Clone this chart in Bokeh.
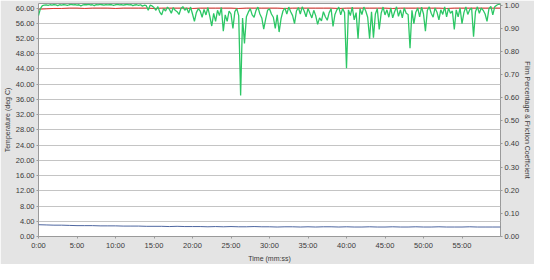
from bokeh.plotting import figure
from bokeh.models import Range1d, LinearAxis, FixedTicker
from bokeh.embed import file_html
from bokeh.resources import INLINE

# ---- data ----
x_ticks = [0, 5, 10, 15, 20, 25, 30, 35, 40, 45, 50, 55]
x_tick_labels = ["0:00", "5:00", "10:00", "15:00", "20:00", "25:00", "30:00",
                 "35:00", "40:00", "45:00", "50:00", "55:00"]
temp_ticks = [0, 4, 8, 12, 16, 20, 24, 28, 32, 36, 40, 44, 48, 52, 56, 60]
ratio_ticks = [0.0, 0.1, 0.2, 0.3, 0.4, 0.5, 0.6, 0.7, 0.8, 0.9, 1.0]

# film percentage (right axis), one value every 15 s
film_time = [i * 0.25 for i in range(241)]
film = [
    0.955, 0.985, 0.998, 1.000,  1.001, 0.999, 1.002, 1.000,  1.003, 1.001, 0.998, 1.002,
    1.000, 1.003, 1.001, 0.999,  1.002, 1.004, 1.001, 1.003,  1.000, 1.002, 0.997, 1.001,
    1.003, 1.002, 1.004, 1.001,  1.002, 0.998, 1.003, 1.001,  1.004, 1.002, 1.000, 1.003,
    1.001, 1.003, 1.002, 0.999,  1.002, 1.004, 1.001, 1.003,  1.000, 1.002, 1.004, 1.001,
    1.003, 0.998, 1.001, 1.002,  0.999, 1.002, 0.996, 1.000,  0.998, 0.978, 1.000, 0.997,
    0.990, 0.978, 0.994, 0.970,  0.958, 0.985, 0.975, 0.992,  0.982, 0.965, 0.990, 0.978,
    0.972, 0.960, 0.986, 0.994,  0.978, 0.988, 0.966, 0.992,  0.962, 0.930, 0.968, 0.985,
    0.975, 0.948, 0.982, 0.958,  0.990, 0.952, 0.910, 0.965,  0.930, 0.978, 0.955, 0.990,
    0.888, 0.958, 0.930, 0.975,  0.962, 0.900, 0.972, 0.985,  0.955, 0.610, 0.945, 0.835,
    0.950, 0.970, 0.985, 0.958,  0.948, 0.978, 0.992, 0.962,  0.945, 0.897, 0.940, 0.978,
    0.985, 0.962, 0.948, 0.900,  0.958, 0.884, 0.942, 0.975,  0.988, 0.962, 0.992, 0.972,
    0.955, 0.920, 0.975, 0.990,  0.962, 0.993, 0.975, 0.950,  0.986, 0.965, 0.945, 0.978,
    0.955, 0.917, 0.945, 0.932,  0.972, 0.950, 0.935, 0.968,  0.985, 0.908, 0.960, 0.980,
    0.992, 0.958, 0.986, 0.968,  0.728, 0.980, 0.955, 0.992,  0.937, 0.968, 0.855, 0.985,
    0.960, 0.992, 0.975, 0.948,  0.855, 0.972, 0.860, 0.962,  0.985, 0.895, 0.965, 0.992,
    0.958, 0.980, 0.948, 0.988,  0.945, 0.972, 0.993, 0.952,  0.980, 0.945, 0.988, 0.965,
    0.960, 0.814, 0.978, 0.920,  0.970, 0.988, 0.950, 0.992,  0.962, 0.888, 0.978, 0.993,
    0.965, 0.948, 0.988, 0.970,  0.937, 0.980, 0.960, 0.993,  0.950, 0.987, 0.965, 0.975,
    0.895, 0.980, 0.950, 0.988,  0.920, 0.968, 0.993, 0.960,  0.980, 0.988, 0.864, 0.972,
    0.993, 0.965, 0.988, 0.978,  0.962, 0.930, 0.985, 0.995,  0.958, 0.993, 1.000, 1.004,
    1.005,
]

# temperature (left axis) and friction coefficient (right axis), one value per minute
minute_time = list(range(61))
temperature = [
    59.7, 59.8, 59.9, 59.9, 60.0, 60.0, 59.9, 60.0, 60.0, 60.0, 59.9, 60.0, 60.0,
    60.0, 60.0, 59.9, 60.0, 60.0, 60.0, 60.0, 59.9, 60.0, 60.0, 60.0, 60.0, 60.0,
    59.9, 60.0, 60.0, 60.0, 60.0, 60.0, 59.9, 60.0, 60.0, 60.0, 60.0, 60.0, 60.0,
    59.9, 60.0, 60.0, 60.0, 60.0, 60.0, 60.0, 59.9, 60.0, 60.0, 60.0, 60.0, 60.0,
    60.0, 59.9, 60.0, 60.0, 60.0, 60.0, 60.0, 60.0, 60.0,
]
friction = [
    0.051, 0.050, 0.049, 0.049, 0.048, 0.047, 0.047, 0.047, 0.046, 0.046, 0.046,
    0.045, 0.045, 0.045, 0.044, 0.044, 0.044, 0.043, 0.044, 0.043, 0.043, 0.043,
    0.042, 0.043, 0.042, 0.043, 0.042, 0.042, 0.043, 0.042, 0.042, 0.041, 0.042,
    0.042, 0.041, 0.042, 0.041, 0.042, 0.042, 0.041, 0.042, 0.041, 0.041, 0.042,
    0.041, 0.041, 0.042, 0.041, 0.041, 0.042, 0.041, 0.041, 0.042, 0.041, 0.041,
    0.041, 0.042, 0.041, 0.041, 0.041, 0.041,
]

FONT = "Liberation Sans"
TXT = "#3a3a3a"

p = figure(width=534, height=264, output_backend="svg", toolbar_location=None,
           x_range=Range1d(0, 60), y_range=Range1d(0, 61.2),
           min_border_left=28, min_border_right=20, min_border_top=3, min_border_bottom=18)
p.extra_y_ranges = {"ratio": Range1d(0, 1.0074)}

p.background_fill_color = "white"
p.border_fill_color = "#e4e4e4"
p.outline_line_color = "#9a9a9a"
p.xgrid.visible = False
p.ygrid.grid_line_color = "#c4c4c4"
p.ygrid.ticker = FixedTicker(ticks=temp_ticks)

# left axis
ly = p.yaxis[0]
ly.ticker = FixedTicker(ticks=temp_ticks)
ly.major_label_overrides = {t: "%.2f" % t for t in temp_ticks}
ly.axis_label = "Temperature (deg C)"

# bottom axis
bx = p.xaxis[0]
bx.ticker = FixedTicker(ticks=x_ticks)
bx.major_label_overrides = dict(zip(x_ticks, x_tick_labels))
bx.axis_label = "Time (mm:ss)"

# right axis
ry = LinearAxis(y_range_name="ratio", ticker=FixedTicker(ticks=ratio_ticks),
                axis_label="Film Percentage & Friction Coefficient")
ry.major_label_overrides = {t: "%.2f" % t for t in ratio_ticks}
p.add_layout(ry, "right")

for ax in [ly, bx, ry]:
    ax.major_label_text_font = FONT
    ax.major_label_text_font_size = "7.5px"
    ax.major_label_text_color = TXT
    ax.axis_label_text_font = FONT
    ax.axis_label_text_font_size = "7px"
    ax.axis_label_text_font_style = "normal"
    ax.axis_label_text_color = TXT
    ax.axis_line_color = None
    ax.major_tick_line_color = "#9a9a9a"
    ax.major_tick_out = 2
    ax.major_tick_in = 0
    ax.minor_tick_line_color = None
    ax.major_label_standoff = 2
    ax.axis_label_standoff = 2

p.line(minute_time, temperature, line_color="#e0302a", line_width=1)
p.line(film_time, film, y_range_name="ratio", line_color="#2cc765", line_width=1.3)
p.line(minute_time, friction, y_range_name="ratio", line_color="#3a5595", line_width=0.9)

open("out.html", "w").write(file_html(p, INLINE))
